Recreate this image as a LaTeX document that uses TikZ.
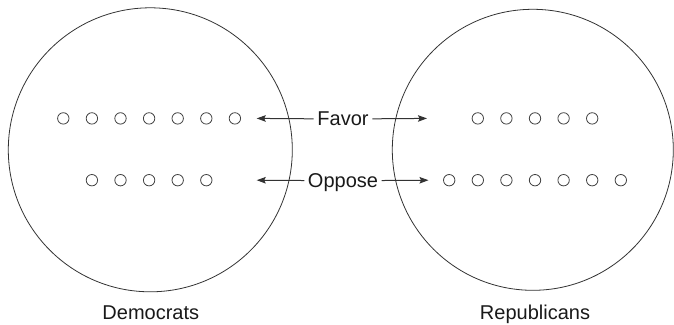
\documentclass[tikz,border=0pt]{standalone}
\usepackage{fontspec}
\setmainfont{Liberation Sans}
\usetikzlibrary{arrows.meta}
\tikzset{
  vote/.style={circle, draw=black!75, line width=0.8pt, minimum size=11.4pt, inner sep=0pt},
  party/.style={font=\fontsize{20}{24}\selectfont, text=black!90, anchor=base, inner sep=0pt},
  stance/.style={font=\fontsize{20}{24}\selectfont, text=black!90, anchor=base, text depth=0pt, inner xsep=3.5pt, inner ysep=0pt},
  pull/.style={-{Stealth[length=9pt,width=6.5pt,inset=1.5pt]}, line width=1pt, black!80},
}
\begin{document}
\begin{tikzpicture}[x=1pt, y=-1pt]
    \def\gap{28.6}
    \def\fy{118.4}
    \def\oy{180.2}
    \useasboundingbox (0,0) rectangle (674,324);

    % the two groups
    \draw[black!80, line width=0.8pt] (150.3,149.8) circle (142);
    \draw[black!80, line width=0.8pt] (532.8,149.8) circle (140.5);
    \node[party] (dem) at (150.8,319.6) {Democrats};
    \node[party] (rep) at (535,319.6) {Republicans};

    % democrats, favor
    \node[vote] (df1) at (63.3,\fy) {};
    \node[vote] (df2) at (63.3+\gap,\fy) {};
    \node[vote] (df3) at (63.3+2*\gap,\fy) {};
    \node[vote] (df4) at (63.3+3*\gap,\fy) {};
    \node[vote] (df5) at (63.3+4*\gap,\fy) {};
    \node[vote] (df6) at (63.3+5*\gap,\fy) {};
    \node[vote] (df7) at (63.3+6*\gap,\fy) {};
    % democrats, oppose
    \node[vote] (do1) at (63.3+\gap,\oy) {};
    \node[vote] (do2) at (63.3+2*\gap,\oy) {};
    \node[vote] (do3) at (63.3+3*\gap,\oy) {};
    \node[vote] (do4) at (63.3+4*\gap,\oy) {};
    \node[vote] (do5) at (63.3+5*\gap,\oy) {};

    % republicans, favor
    \node[vote] (rf1) at (449.2+\gap,\fy) {};
    \node[vote] (rf2) at (449.2+2*\gap,\fy) {};
    \node[vote] (rf3) at (449.2+3*\gap,\fy) {};
    \node[vote] (rf4) at (449.2+4*\gap,\fy) {};
    \node[vote] (rf5) at (449.2+5*\gap,\fy) {};
    % republicans, oppose
    \node[vote] (ro1) at (449.2,\oy) {};
    \node[vote] (ro2) at (449.2+\gap,\oy) {};
    \node[vote] (ro3) at (449.2+2*\gap,\oy) {};
    \node[vote] (ro4) at (449.2+3*\gap,\oy) {};
    \node[vote] (ro5) at (449.2+4*\gap,\oy) {};
    \node[vote] (ro6) at (449.2+5*\gap,\oy) {};
    \node[vote] (ro7) at (449.2+6*\gap,\oy) {};

    % labels in the middle
    \node[stance] (favor) at (343,\fy+7.3) {Favor};
    \node[stance] (oppose) at (343,\oy+7.3) {Oppose};
    \coordinate (fl) at (256.7,\fy);
    \coordinate (fr) at (427,\fy);
    \coordinate (ol) at (256.7,\oy);
    \coordinate (or) at (428.5,\oy);
    \draw[pull] (favor.west) -- (fl);
    \draw[pull] (favor.east) -- (fr);
    \draw[pull] (oppose.west) -- (ol);
    \draw[pull] (oppose.east) -- (or);
\end{tikzpicture}
\end{document}
